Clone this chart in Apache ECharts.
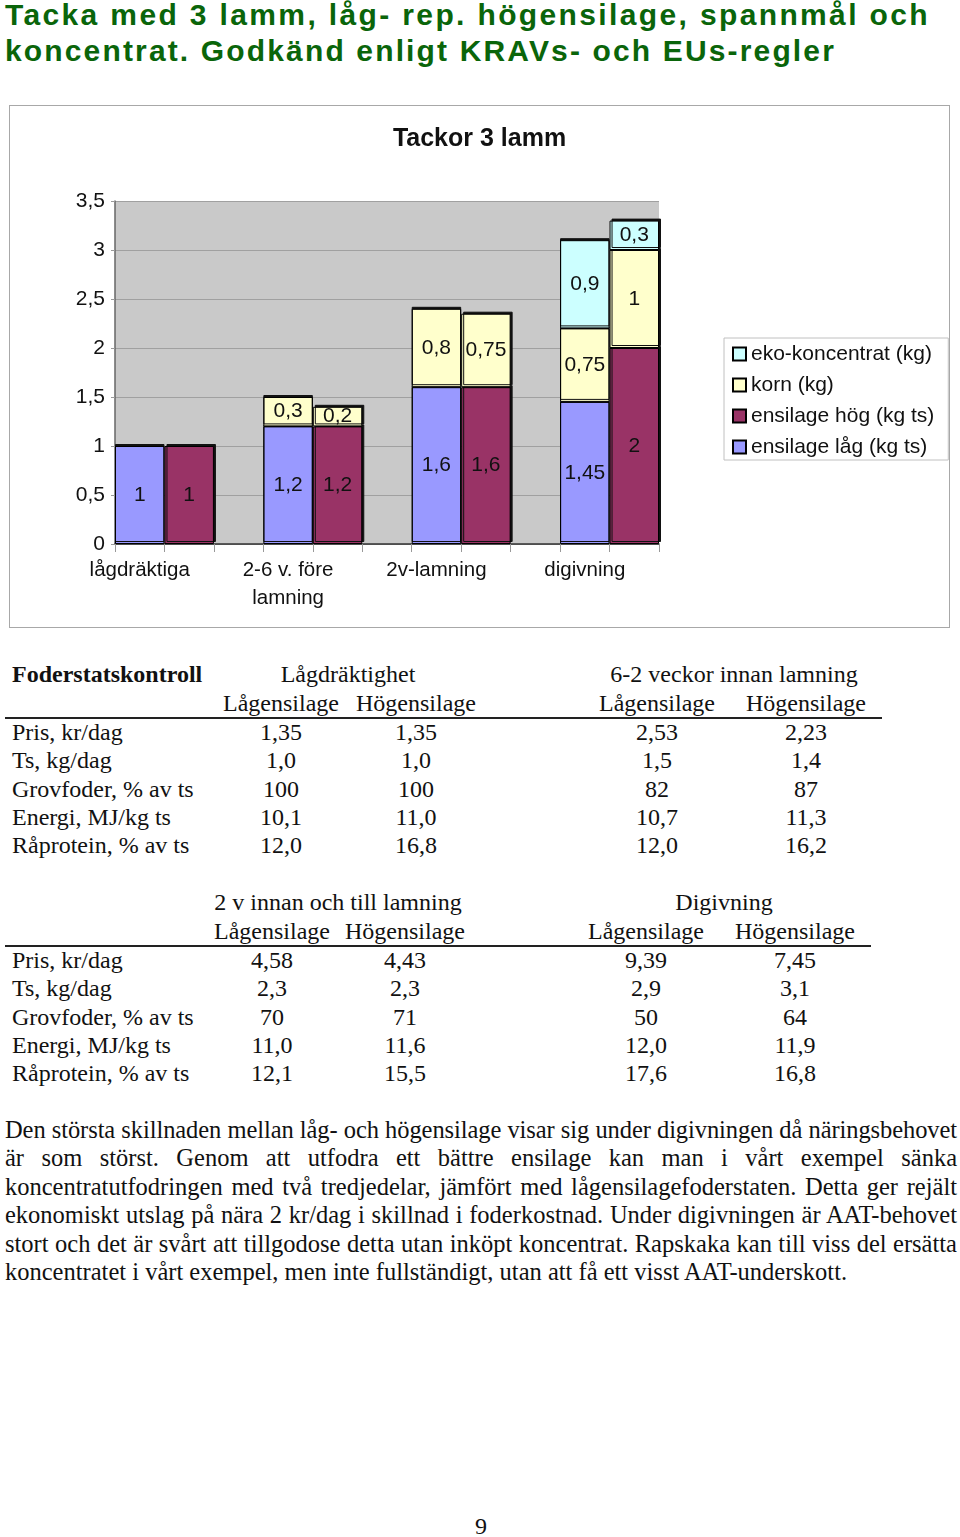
<!DOCTYPE html>
<html>
<head>
<meta charset="utf-8">
<script src="https://cdn.jsdelivr.net/npm/echarts@6/dist/echarts.min.js"></script>
<style>
  html, body { margin:0; padding:0; background:#fff; }
  body { width:960px; height:1537px; position:relative; overflow:hidden; }
  .ttl { position:absolute; left:5px; font-family:"Liberation Sans", Arial, sans-serif; font-weight:bold; font-size:30px; line-height:36px; color:#0a650a; white-space:nowrap; }
  .t { position:absolute; font-family:"Liberation Serif", "Times New Roman", serif; font-size:24px; line-height:28px; color:#111; white-space:nowrap; }
  .c { transform:translateX(-50%); }
  .rule { position:absolute; height:1.5px; background:#222; }
  .par { position:absolute; left:5px; width:952px; font-family:"Liberation Serif", "Times New Roman", serif; font-size:24.5px; line-height:28px; color:#111; white-space:nowrap; text-align:justify; text-align-last:justify; }
  .par.last { text-align:left; text-align-last:left; }
  #box { position:absolute; left:9px; top:105px; width:941px; height:523px; box-sizing:border-box; border:1px solid #a8a8a8; }
  #chart { position:absolute; left:0; top:0; width:939px; height:521px; }
</style>
</head>
<body>
<div id="page"></div>
<div id="box"><div id="chart"></div></div>
<script>
// ---------- Data ----------
const chartTitle = 'Tackor 3 lamm';
const groups = ['lågdräktiga', '2-6 v. före\nlamning', '2v-lamning', 'digivning'];
const seriesNames = ['ensilage låg (kg ts)', 'ensilage hög (kg ts)', 'korn (kg)', 'eko-koncentrat (kg)'];
// left bar of each pair = lågensilage feed, right bar = högensilage feed
const silageLow  = [1, 1.2, 1.6, 1.45];
const silageHigh = [1, 1.2, 1.6, 2];
const kornLow    = [0, 0.3, 0.8, 0.75];
const kornHigh   = [0, 0.2, 0.75, 1];
const ekoLow     = [0, 0, 0, 0.9];
const ekoHigh    = [0, 0, 0, 0.3];
const yTicks = [0, 0.5, 1, 1.5, 2, 2.5, 3, 3.5];

const pageTitle = ['Tacka med 3 lamm, låg- rep. högensilage, spannmål och',
                   'koncentrat. Godkänd enligt KRAVs- och EUs-regler'];
const rowLabels = ['Pris, kr/dag', 'Ts, kg/dag', 'Grovfoder, % av ts', 'Energi, MJ/kg ts', 'Råprotein, % av ts'];
const t1Groups = ['Lågdräktighet', '6-2 veckor innan lamning'];
const t2Groups = ['2 v innan och till lamning', 'Digivning'];
const subHeads = ['Lågensilage', 'Högensilage'];
const t1Cols = [
  ['1,35', '1,0', '100', '10,1', '12,0'],
  ['1,35', '1,0', '100', '11,0', '16,8'],
  ['2,53', '1,5', '82', '10,7', '12,0'],
  ['2,23', '1,4', '87', '11,3', '16,2']
];
const t2Cols = [
  ['4,58', '2,3', '70', '11,0', '12,1'],
  ['4,43', '2,3', '71', '11,6', '15,5'],
  ['9,39', '2,9', '50', '12,0', '17,6'],
  ['7,45', '3,1', '64', '11,9', '16,8']
];
const paragraph = [
  'Den största skillnaden mellan låg- och högensilage visar sig under digivningen då näringsbehovet',
  'är som störst. Genom att utfodra ett bättre ensilage kan man i vårt exempel sänka',
  'koncentratutfodringen med två tredjedelar, jämfört med lågensilagefoderstaten. Detta ger rejält',
  'ekonomiskt utslag på nära 2 kr/dag i skillnad i foderkostnad. Under digivningen är AAT-behovet',
  'stort och det är svårt att tillgodose detta utan inköpt koncentrat. Rapskaka kan till viss del ersätta',
  'koncentratet i vårt exempel, men inte fullständigt, utan att få ett visst AAT-underskott.'
];
const pageNumber = '9';

// ---------- Page text ----------
const page = document.getElementById('page');
function put(cls, text, x, cy, center) {
  const d = document.createElement('div');
  d.className = cls + (center ? ' c' : '');
  d.textContent = text;
  d.style.left = x + 'px';
  d.style.top = (cy - 15) + 'px';
  page.appendChild(d);
  return d;
}
// title lines, fitted to widths
const titleWidths = [925, 831];
pageTitle.forEach((s, i) => {
  const d = document.createElement('div');
  d.className = 'ttl';
  d.textContent = s;
  d.style.top = (-3 + i * 36) + 'px';
  page.appendChild(d);
  const w = d.getBoundingClientRect().width;
  const ls = (titleWidths[i] - w) / s.length;
  d.style.letterSpacing = ls + 'px';
});

function table(y0, groupsTxt, groupX, colX, cols, ruleX0, ruleX1, boldFirst) {
  if (boldFirst) { const b = put('t', 'Foderstatskontroll', 12, y0, false); b.style.fontWeight = 'bold'; }
  groupsTxt.forEach((g, i) => put('t', g, groupX[i], y0, true));
  colX.forEach((x, i) => put('t', subHeads[i % 2], x, y0 + 29, true));
  const r = document.createElement('div');
  r.className = 'rule';
  r.style.left = ruleX0 + 'px'; r.style.width = (ruleX1 - ruleX0) + 'px';
  r.style.top = (y0 + 42) + 'px';
  page.appendChild(r);
  rowLabels.forEach((lab, j) => {
    const cy = y0 + 58 + j * 28.3;
    put('t', lab, 12, cy, false);
    cols.forEach((col, i) => put('t', col[j], colX[i], cy, true));
  });
}
table(675, t1Groups, [348, 734], [281, 416, 657, 806], t1Cols, 5, 882, true);
table(903, t2Groups, [338, 724], [272, 405, 646, 795], t2Cols, 5, 871, false);

paragraph.forEach((s, i) => {
  const d = document.createElement('div');
  d.className = 'par' + (i === paragraph.length - 1 ? ' last' : '');
  const sp = document.createElement('span');
  sp.textContent = s;
  d.appendChild(sp);
  d.style.top = (1131 - 15 + i * 28.4) + 'px';
  page.appendChild(d);
  // keep each line on one line: squeeze letters if the natural width is too wide
  d.style.textAlign = 'left'; d.style.textAlignLast = 'left';
  const w = sp.getBoundingClientRect().width;
  if (w > 950) d.style.letterSpacing = ((950 - w) / s.length) + 'px';
  if (i !== paragraph.length - 1) { d.style.textAlign = 'justify'; d.style.textAlignLast = 'justify'; }
});
put('t', pageNumber, 481, 1527, true);

// ---------- Chart ----------
const cats = [];
const slotOf = []; // [groupIndex, side]
groups.forEach((g, i) => {
  cats.push(g); slotOf.push([i, 0]);
  cats.push(g + '#h'); slotOf.push([i, 1]);
  if (i < groups.length - 1) { cats.push(g + '#gap'); slotOf.push([i, 2]); }
});
function slotData(lowArr, highArr) {
  return slotOf.map(([g, side]) => {
    let v = null;
    if (side === 0 && lowArr) v = lowArr[g];
    if (side === 1 && highArr) v = highArr[g];
    if (!v) return '-';
    return {
      value: v,
      itemStyle: side === 1
        ? { shadowColor: '#111', shadowOffsetX: 2, shadowOffsetY: -2, shadowBlur: 0 }
        : { shadowColor: '#111', shadowOffsetX: 0, shadowOffsetY: -2, shadowBlur: 0 }
    };
  });
}
const colors = ['#9999FF', '#993366', '#FFFFCC', '#CCFFFF'];
const seriesData = [
  slotData(silageLow, null),
  slotData(null, silageHigh),
  slotData(kornLow, kornHigh),
  slotData(ekoLow, ekoHigh)
];
const fmt = v => String(v).replace('.', ',');
const FONT = '"Liberation Sans", Arial, sans-serif';
const chart = echarts.init(document.getElementById('chart'), null, { renderer: 'canvas' });
chart.setOption({
  animation: false,
  textStyle: { fontFamily: FONT },
  title: {
    text: chartTitle, left: 'center', top: 21, padding: 0,
    textStyle: { fontFamily: FONT, fontSize: 25, fontWeight: 'bold', color: '#111' }
  },
  legend: {
    orient: 'vertical', left: 714, top: 232,
    data: [seriesNames[3], seriesNames[2], seriesNames[1], seriesNames[0]],
    itemWidth: 13, itemHeight: 13, itemGap: 9, icon: 'rect',
    padding: [5, 14, 2, 8],
    borderColor: '#c0c0c0', borderWidth: 1,
    textStyle: { fontFamily: FONT, fontSize: 21, lineHeight: 22, color: '#111' },
    selectedMode: false
  },
  grid: {
    left: 105, top: 95, width: 544, height: 343,
    show: true, backgroundColor: '#C9C9C9', borderWidth: 0
  },
  xAxis: {
    type: 'category', data: cats,
    axisLine: { show: true, lineStyle: { color: '#333', width: 1.5 } },
    axisTick: { show: true, interval: 0, length: 8, lineStyle: { color: '#999' } },
    axisLabel: {
      interval: 0, margin: 12, fontSize: 20.5, lineHeight: 28, color: '#111', fontFamily: FONT,
      formatter: v => v.indexOf('#') >= 0 ? '' : v
    }
  },
  yAxis: {
    type: 'value', min: yTicks[0], max: yTicks[yTicks.length - 1], interval: 0.5,
    axisLine: { show: true, lineStyle: { color: '#666', width: 1.5 } },
    axisTick: { show: true, length: 4, lineStyle: { color: '#999' } },
    axisLabel: { fontSize: 21, color: '#111', margin: 10, fontFamily: FONT, formatter: fmt },
    splitLine: { show: true, lineStyle: { color: '#a0a0a0', width: 1 } }
  },
  series: seriesNames.map((n, i) => ({
    name: n, type: 'bar', stack: 'feed',
    barWidth: '100%', barCategoryGap: '0%',
    data: seriesData[i],
    itemStyle: { color: colors[i], borderColor: '#000', borderWidth: 1 },
    label: {
      show: true, position: 'inside', fontSize: 21, color: '#111',
      fontFamily: FONT,
      formatter: p => fmt(p.value)
    },
    emphasis: { disabled: true }
  }))
});
</script>
</body>
</html>
